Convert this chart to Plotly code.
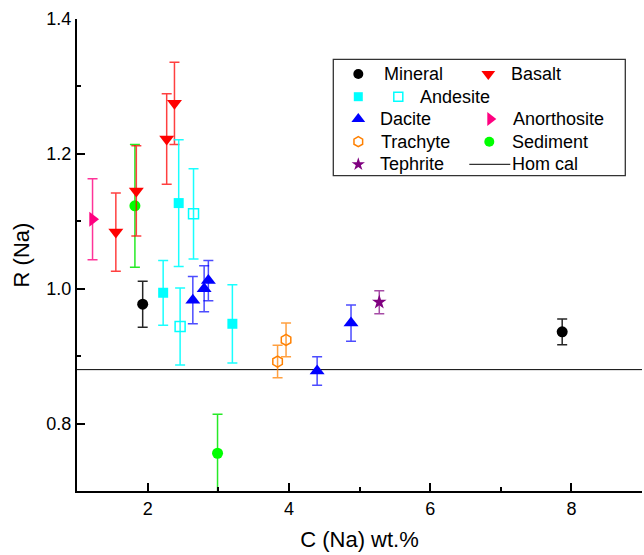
import plotly.graph_objects as go

# ---- measured concentration C (wt.%), ratio R and its uncertainty ----
mineral_c = [1.93, 7.87]
mineral_r = [0.977, 0.936]
mineral_err = [0.034, 0.019]

basalt_c = [1.55, 1.84, 2.27, 2.38]
basalt_r = [1.084, 1.145, 1.222, 1.275]
basalt_err = [0.058, 0.067, 0.067, 0.061]

andesite_c = [2.44, 2.22, 3.20]
andesite_r = [1.127, 0.994, 0.948]
andesite_err = [0.094, 0.048, 0.058]

andesite_open_c = [2.65, 2.46]
andesite_open_r = [1.111, 0.944]
andesite_open_err = [0.067, 0.057]

dacite_c = [2.64, 2.80, 2.86, 4.40, 4.88]
dacite_r = [0.983, 1.000, 1.012, 0.878, 0.949]
dacite_err = [0.035, 0.034, 0.030, 0.021, 0.027]

anorthosite_c = [1.22]
anorthosite_r = [1.103]
anorthosite_err = [0.060]

trachyte_c = [3.84, 3.96]
trachyte_r = [0.892, 0.924]
trachyte_err = [0.024, 0.025]

sediment_c = [1.82, 2.99]
sediment_r = [1.123, 0.756]
sediment_err = [0.091, 0.058]

tephrite_c = [5.28]
tephrite_r = [0.980]
tephrite_err = [0.017]

hom_cal_c = [1, 9]
hom_cal_r = 0.88

x_ticks = [2, 4, 6, 8]
y_ticks = [0.8, 1.0, 1.2, 1.4]

FONT = "Liberation Sans, Arial, sans-serif"

# marker / error-bar styles per rock group
styles = {
    "Mineral": dict(symbol="circle", size=11, color="#000000", err="rgba(0,0,0,0.85)"),
    "Basalt": dict(symbol="triangle-down", size=13, color="#FF0000", err="rgba(255,0,0,0.75)"),
    "Andesite": dict(symbol="square", size=10, color="#00FFFF", err="rgba(0,255,255,0.9)"),
    "AndesiteOpen": dict(symbol="square-open", size=10, color="#00FFFF", err="rgba(0,255,255,0.9)"),
    "Dacite": dict(symbol="triangle-up", size=13, color="#0000FF", err="rgba(0,0,255,0.7)"),
    "Anorthosite": dict(symbol="triangle-right", size=13, color="#FF0080", err="rgba(255,0,128,0.8)"),
    "Trachyte": dict(symbol="hexagon-open", size=11, color="#FF8000", err="rgba(255,128,0,0.75)"),
    "Sediment": dict(symbol="circle", size=11, color="#00FF00", err="rgba(0,230,0,0.85)"),
    "Tephrite": dict(symbol="star", size=11, color="#800080", err="rgba(128,0,128,0.7)"),
}

series = [
    ("Mineral", mineral_c, mineral_r, mineral_err),
    ("Trachyte", trachyte_c, trachyte_r, trachyte_err),
    ("Tephrite", tephrite_c, tephrite_r, tephrite_err),
    ("Sediment", sediment_c, sediment_r, sediment_err),
    ("Basalt", basalt_c, basalt_r, basalt_err),
    ("Anorthosite", anorthosite_c, anorthosite_r, anorthosite_err),
    ("Andesite", andesite_c, andesite_r, andesite_err),
    ("AndesiteOpen", andesite_open_c, andesite_open_r, andesite_open_err),
    ("Dacite", dacite_c, dacite_r, dacite_err),
]

fig = go.Figure()

# calibration line
fig.add_trace(go.Scatter(
    x=hom_cal_c, y=[hom_cal_r] * len(hom_cal_c), mode="lines",
    line=dict(color="black", width=1), showlegend=False, hoverinfo="skip",
))

for name, cx, ry, err in series:
    st = styles[name]
    open_sym = st["symbol"].endswith("open")
    fig.add_trace(go.Scatter(
        x=cx, y=ry, mode="markers", name=name, showlegend=False,
        marker=dict(symbol=st["symbol"], size=st["size"], color=st["color"],
                    line=dict(color=st["color"], width=1.5 if open_sym else 0)),
        error_y=dict(type="data", array=err, visible=True, color=st["err"],
                     thickness=1.5, width=5),
    ))

# ---- hand-built legend box on an overlay axis measured in pixels ----
PX_L, PX_R, PX_T, PX_B = 76.7, 641.7, 19.0, 491.0

rows = [74, 96.7, 119, 141.7, 164.3]
legend_markers = [
    ("Mineral", 358, rows[0]),
    ("Basalt", 488, rows[0]),
    ("Andesite", 358, rows[1]),
    ("AndesiteOpen", 398, rows[1]),
    ("Dacite", 358, rows[2]),
    ("Anorthosite", 490, rows[2]),
    ("Trachyte", 358, rows[3]),
    ("Sediment", 489, rows[3]),
    ("Tephrite", 358, rows[4]),
]
legend_labels = [
    ("Mineral", 382, rows[0]),
    ("Basalt", 509, rows[0]),
    ("Andesite", 418, rows[1]),
    ("Dacite", 378, rows[2]),
    ("Anorthosite", 511, rows[2]),
    ("Trachyte", 379, rows[3]),
    ("Sediment", 510, rows[3]),
    ("Tephrite", 378, rows[4]),
    ("Hom cal", 510, rows[4]),
]

for key, lx, ly in legend_markers:
    st = styles[key]
    open_sym = st["symbol"].endswith("open")
    fig.add_trace(go.Scatter(
        x=[lx], y=[ly], xaxis="x2", yaxis="y2", mode="markers", showlegend=False,
        hoverinfo="skip",
        marker=dict(symbol=st["symbol"], size=st["size"] - 1, color=st["color"],
                    line=dict(color=st["color"], width=1.5 if open_sym else 0)),
    ))

fig.add_trace(go.Scatter(
    x=[469, 510], y=[rows[4], rows[4]], xaxis="x2", yaxis="y2", mode="lines",
    line=dict(color="black", width=1), showlegend=False, hoverinfo="skip",
))

annotations = [
    dict(x=lx, y=ly, xref="x2", yref="y2", text=t, showarrow=False,
         xanchor="left", yanchor="middle", font=dict(family=FONT, size=18, color="black"))
    for t, lx, ly in legend_labels
]

fig.add_shape(type="rect", xref="x2", yref="y2", x0=333, x1=625, y0=59.3, y1=175.7,
              line=dict(color="#333333", width=1.3), fillcolor="rgba(0,0,0,0)", layer="below")

fig.update_layout(
    width=644, height=555,
    margin=dict(l=PX_L, r=644 - PX_R, t=PX_T, b=555 - PX_B),
    paper_bgcolor="white", plot_bgcolor="white",
    font=dict(family=FONT, size=18, color="black"),
    showlegend=False,
    annotations=annotations,
    xaxis=dict(
        range=[1, 9], tickvals=x_ticks, ticks="inside", ticklen=8, tickwidth=2,
        tickcolor="black", showline=True, linewidth=2, linecolor="black",
        showgrid=False, zeroline=False, tickfont=dict(size=18),
        minor=dict(dtick=1, tick0=1, ticks="inside", ticklen=4, tickwidth=2, tickcolor="black"),
        title=dict(text="C (Na) wt.%", font=dict(size=22), standoff=14),
    ),
    yaxis=dict(
        range=[0.7, 1.4], tickvals=y_ticks, ticktext=[f"{v:.1f}" for v in y_ticks],
        ticks="inside", ticklen=8, tickwidth=2,
        tickcolor="black", showline=True, linewidth=2, linecolor="black",
        showgrid=False, zeroline=False, tickfont=dict(size=18),
        minor=dict(dtick=0.1, tick0=0.7, ticks="inside", ticklen=4, tickwidth=2, tickcolor="black"),
        title=dict(text="R (Na)", font=dict(size=22), standoff=11),
    ),
    xaxis2=dict(range=[PX_L, PX_R], overlaying="x", visible=False, fixedrange=True),
    yaxis2=dict(range=[PX_B, PX_T], overlaying="y", visible=False, fixedrange=True),
)

fig.write_html("out.html")
